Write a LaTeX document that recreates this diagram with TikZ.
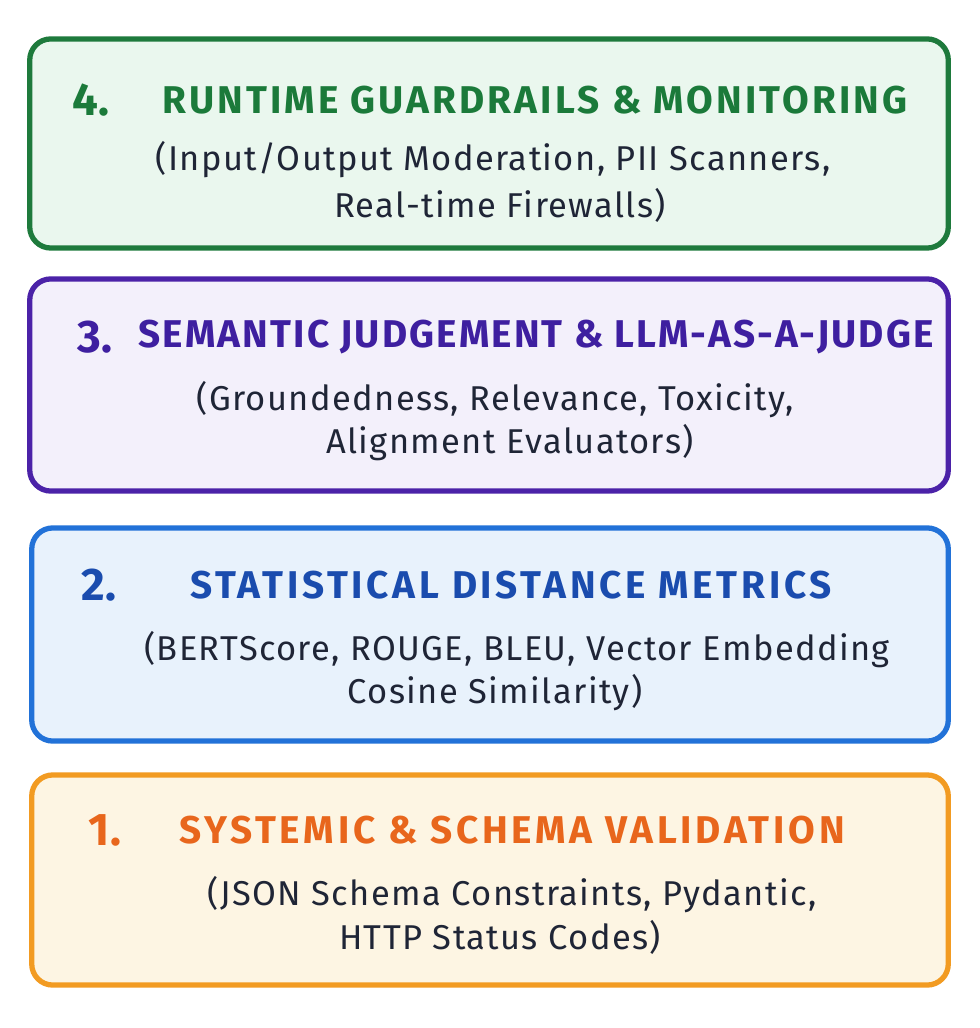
\documentclass[tikz,border=0pt]{standalone}
\usepackage{fontspec}
\setmainfont{Fira Sans}

\definecolor{guardline}{HTML}{1E7A3C}
\definecolor{guardfill}{HTML}{EAF7EE}
\definecolor{judgeline}{HTML}{4B22A8}
\definecolor{judgefill}{HTML}{F3F0FB}
\definecolor{metricline}{HTML}{2272D8}
\definecolor{metricfill}{HTML}{E8F2FC}
\definecolor{schemaline}{HTML}{F29B22}
\definecolor{schemafill}{HTML}{FDF5E3}
\definecolor{schematext}{HTML}{E8661C}
\definecolor{metrictext}{HTML}{1A4CAE}
\definecolor{judgetext}{HTML}{3E1FA0}
\definecolor{guardtext}{HTML}{1B7A3A}
\definecolor{bodytext}{HTML}{1F2536}

\tikzset{
  layer/.style={draw, line width=1.5pt, rounded corners=6pt, inner sep=0pt},
  num/.style={font=\fontsize{13}{15}\selectfont\bfseries},
  heading/.style={font=\fontsize{11}{13}\selectfont\bfseries\addfontfeatures{LetterSpace=#1}},
  heading/.default=8,
  detail/.style={font=\fontsize{9.8}{12}\selectfont\addfontfeatures{LetterSpace=4}, text=bodytext},
}

\begin{document}
\begin{tikzpicture}[x=0.01cm, y=-0.01cm]
        \useasboundingbox[fill=white] (0,0) rectangle (979,1028);

        % layer 4
        \node[layer, draw=guardline, fill=guardfill, minimum width=9.18cm, minimum height=2.09cm] (guard) at (489,143.5) {};
        \node[num, text=guardtext] (guardnum) at (91,100) {4.};
        \node[heading, text=guardtext] (guardtitle) at (535,100) {RUNTIME GUARDRAILS \& MONITORING};
        \node[detail] (guardsub) at (493,160) {(Input/Output Moderation, PII Scanners,};
        \node[detail] (guardsubb) at (500,205) {Real-time Firewalls)};

        % layer 3
        \node[layer, draw=judgeline, fill=judgefill, minimum width=9.18cm, minimum height=2.12cm] (judge) at (489,385) {};
        \node[num, text=judgetext] (judgenum) at (95,337) {3.};
        \node[heading=5.5, text=judgetext] (judgetitle) at (536,337) {SEMANTIC JUDGEMENT \& LLM-AS-A-JUDGE};
        \node[detail] (judgesub) at (495,400) {(Groundedness, Relevance, Toxicity,};
        \node[detail] (judgesubb) at (510,443) {Alignment Evaluators)};

        % layer 2
        \node[layer, draw=metricline, fill=metricfill, minimum width=9.16cm, minimum height=2.13cm] (metric) at (490,634.5) {};
        \node[num, text=metrictext] (metricnum) at (99,585) {2.};
        \node[heading=9.6, text=metrictext] (metrictitle) at (511,585) {STATISTICAL DISTANCE METRICS};
        \node[detail] (metricsub) at (517,650) {(BERTScore, ROUGE, BLEU, Vector Embedding};
        \node[detail] (metricsubb) at (495,693) {Cosine Similarity)};

        % layer 1
        \node[layer, draw=schemaline, fill=schemafill, minimum width=9.16cm, minimum height=2.10cm] (schema) at (490,880) {};
        \node[num, text=schematext] (schemanum) at (105,830) {1.};
        \node[heading=9.6, text=schematext] (schematitle) at (512,830) {SYSTEMIC \& SCHEMA VALIDATION};
        \node[detail] (schemasub) at (512,895) {(JSON Schema Constraints, Pydantic,};
        \node[detail] (schemasubb) at (500,937) {HTTP Status Codes)};
      \end{tikzpicture}
\end{document}
